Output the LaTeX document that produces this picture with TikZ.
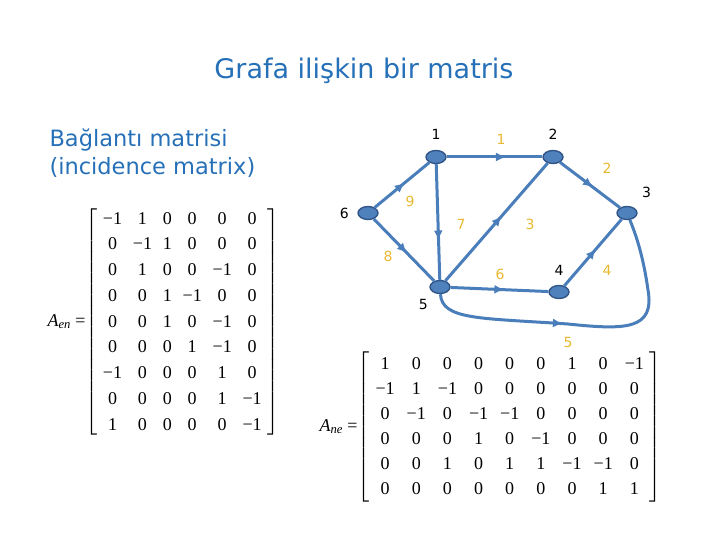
\documentclass[tikz,border=0pt]{standalone}
\usepackage{amsmath,amssymb}
\usepackage[no-math]{fontspec}
\setmainfont{DejaVu Sans}
\newfontfamily\matfont{Liberation Serif}
\usetikzlibrary{arrows.meta,decorations.markings,shapes.geometric,positioning}
\definecolor{titleblue}{RGB}{38,112,184}
\definecolor{edgeblue}{RGB}{74,126,187}
\definecolor{vtxfill}{RGB}{79,129,189}
\definecolor{vtxdraw}{RGB}{50,85,135}
\definecolor{labgold}{RGB}{232,184,48}

\begin{document}
\begin{tikzpicture}[x=1pt,y=-1pt,
        vtx/.style = {draw=vtxdraw, fill=vtxfill, ellipse, line width=1.4pt, minimum width=20pt, minimum height=13pt, inner sep=0pt},
        vlab/.style = {font=\fontsize{14}{14}\selectfont},
        elab/.style = {text=labgold, font=\fontsize{14}{14}\selectfont},
        mat/.style = {anchor=west, font=\matfont\fontsize{18}{18}\selectfont},
        arc/.style = {color=edgeblue, line width=3pt, postaction={decorate},
          decoration={markings, mark=at position #1 with {\arrow{Latex[length=10pt,width=9pt]}}}},
        arc/.default = 0.55,
        ]
        \useasboundingbox (0,0) rectangle (720,540);
        % headings
        \node[text=titleblue, font=\fontsize{27}{30}\selectfont](title) at (364,71) {Grafa ilişkin bir matris};
        \node[text=titleblue, font=\fontsize{22.5}{28}\selectfont, align=left, anchor=north west](sub) at (46,125) {Bağlantı matrisi\\(incidence matrix)};
        % graph
        \node[vtx](n1) at (436,157) [label={[vlab,label distance=7pt]above:1}] {};
        \node[vtx](n2) at (553,157) [label={[vlab,label distance=7pt]above:2}] {};
        \node[vtx](n3) at (627,213) [label={[vlab,label distance=8pt]above right:3}] {};
        \node[vtx](n4) at (559,292) [label={[vlab,label distance=6pt]above:4}] {};
        \node[vtx](n5) at (440,287) [label={[vlab,label distance=4pt]below left:5}] {};
        \node[vtx](n6) at (368,213) [label={[vlab,label distance=5pt]left:6}] {};
        \draw[arc=0.62] (n1) -- (n2);
        \draw[arc] (n2) -- (n3);
        \draw[arc] (n5) -- (n2);
        \draw[arc] (n4) -- (n3);
        \draw[arc=0.42] (n5) .. controls (442,320) and (480,318) .. (568,324)
          .. controls (625,330) and (655,330) .. (648,290)
          .. controls (643,255) and (636,235) .. (n3);
        \draw[arc] (n5) -- (n4);
        \draw[arc=0.66] (n1) -- (n5);
        \draw[arc] (n6) -- (n5);
        \draw[arc] (n6) -- (n1);
        \node[elab](e1) at (501,139) {1};
        \node[elab](e2) at (607,168) {2};
        \node[elab](e3) at (530,224) {3};
        \node[elab](e4) at (607,270) {4};
        \node[elab](e5) at (568,342) {5};
        \node[elab](e6) at (500,274) {6};
        \node[elab](e7) at (461,224) {7};
        \node[elab](e8) at (388,256) {8};
        \node[elab](e9) at (410,201) {9};
        % matrices
        \node[mat](Aen) at (44,322) {{\itshape A}\textsubscript{\itshape en} =$\renewcommand{\arraystretch}{1.43}\setlength{\tabcolsep}{5.4pt}\left[\begin{tabular}{cccccc}
          −1 & 1 & 0 & 0 & 0 & 0\\
          0 & −1 & 1 & 0 & 0 & 0\\
          0 & 1 & 0 & 0 & −1 & 0\\
          0 & 0 & 1 & −1 & 0 & 0\\
          0 & 0 & 1 & 0 & −1 & 0\\
          0 & 0 & 0 & 1 & −1 & 0\\
          −1 & 0 & 0 & 0 & 1 & 0\\
          0 & 0 & 0 & 0 & 1 & −1\\
          1 & 0 & 0 & 0 & 0 & −1
        \end{tabular}\right]$};
        \node[mat](Ane) at (316,427) {{\itshape A}\textsubscript{\itshape ne} =$\renewcommand{\arraystretch}{1.39}\setlength{\tabcolsep}{6pt}\left[\begin{tabular}{ccccccccc}
          1 & 0 & 0 & 0 & 0 & 0 & 1 & 0 & −1\\
          −1 & 1 & −1 & 0 & 0 & 0 & 0 & 0 & 0\\
          0 & −1 & 0 & −1 & −1 & 0 & 0 & 0 & 0\\
          0 & 0 & 0 & 1 & 0 & −1 & 0 & 0 & 0\\
          0 & 0 & 1 & 0 & 1 & 1 & −1 & −1 & 0\\
          0 & 0 & 0 & 0 & 0 & 0 & 0 & 1 & 1
        \end{tabular}\right]$};
\end{tikzpicture}
\end{document}
